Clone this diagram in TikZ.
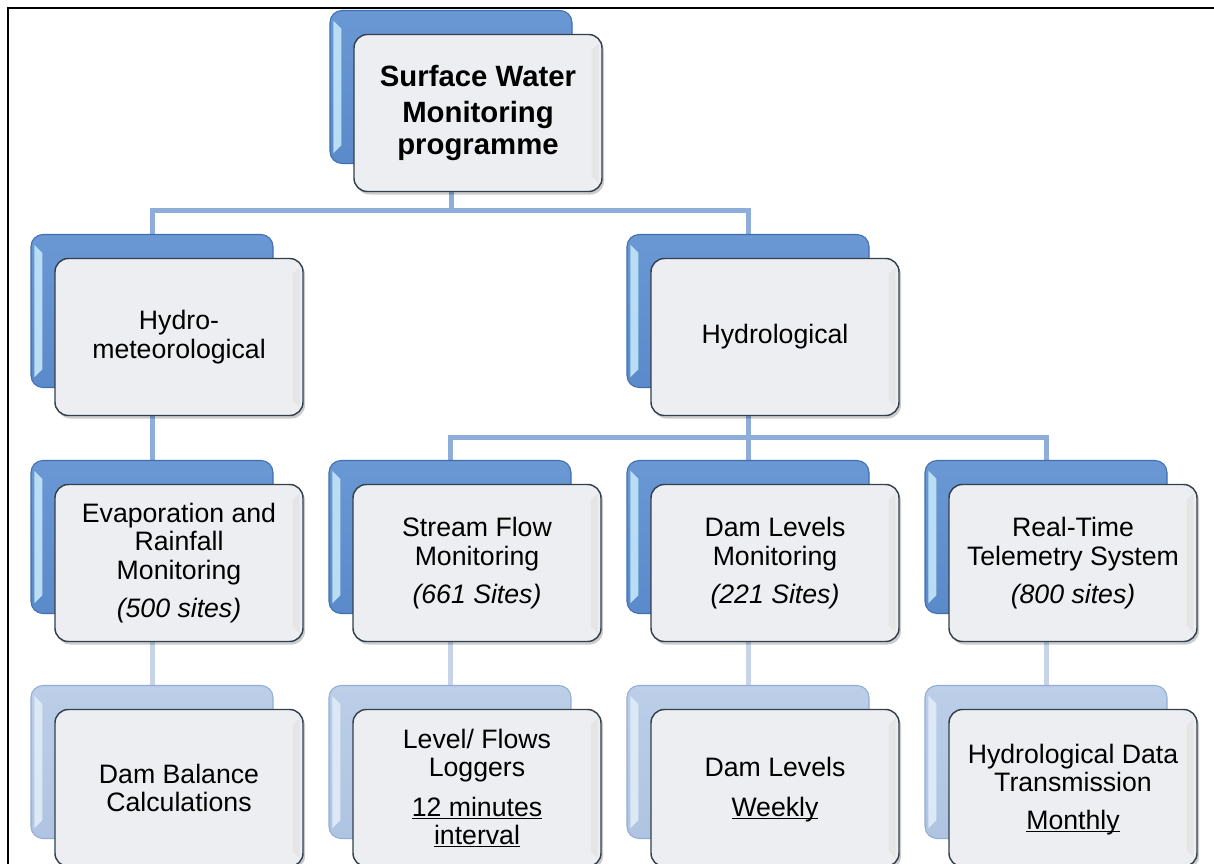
\documentclass[tikz,border=0pt]{standalone}
\usepackage{fontspec}
\setmainfont{Liberation Sans}
\usetikzlibrary{calc}
\pgfdeclarelayer{bg}
\pgfsetlayers{bg,main}
\definecolor{backblue}{HTML}{5A8ACA}
\definecolor{backblueT}{HTML}{6A98D4}
\definecolor{backblueD}{HTML}{406FB0}
\definecolor{backlight}{HTML}{AFC4E2}
\definecolor{backlightT}{HTML}{BCCEE8}
\definecolor{backlightD}{HTML}{93ADD4}
\definecolor{bevelA}{HTML}{B9DDF3}
\definecolor{bevelB}{HTML}{DCE9F5}
\definecolor{frontfill}{HTML}{EDEEF1}
\definecolor{frontdraw}{HTML}{33404C}
\definecolor{connA}{HTML}{8EADD9}
\definecolor{connB}{HTML}{C6D4EA}
\newcommand\myul[1]{\underline{\smash{#1}}}
\tikzset{
  backshape/.style={line width=0.8pt, rounded corners=9pt, minimum width=181.5pt,
    minimum height=114.75pt, inner sep=0pt},
  darkback/.style={backshape, draw=backblueD, top color=backblueT, bottom color=backblue},
  lightback/.style={backshape, draw=backlightD, top color=backlightT, bottom color=backlight},
  darkbackbevel/.style={fill=bevelA},
  lightbackbevel/.style={fill=bevelB},
  frontshadow/.style={rounded corners=10pt, minimum width=186pt, minimum height=117.75pt,
    inner sep=0pt, fill=black, fill opacity=0.2},
  frontbox/.style={draw=frontdraw, line width=1.1pt, rounded corners=10pt,
    minimum width=186pt, minimum height=117.75pt, inner sep=0pt,
    fill=frontfill, align=center,
    font=\fontsize{20}{21.5}\selectfont},
  frontbevel/.style={fill=black!12, fill opacity=0.6},
  conn/.style={draw=connA, line width=3.75pt},
  connlight/.style={draw=connB, line width=3.75pt},
}
% #1 name, #2 x, #3 y (centre of back box, px), #4 back style, #5 extra options, #6 text
\newcommand\mkunit[6]{%
  \node[#4] (#1b) at (#2,#3) {};
  \fill[#4bevel] ($(#1b.north west)+(4,11)$) -- ($(#1b.north west)+(12,19)$)
     -- ($(#1b.south west)+(12,-19)$) -- ($(#1b.south west)+(4,-11)$) -- cycle;
  \node[frontshadow] at ($(#1b.center)+(29,29)$) {};
  \node[frontbox,#5] (#1) at ($(#1b.center)+(27,26)$) {#6};
  \fill[frontbevel] ($(#1.north east)+(-11,16)$) -- ($(#1.north east)+(-4,9)$)
     -- ($(#1.south east)+(-4,-9)$) -- ($(#1.south east)+(-11,-16)$) -- cycle;
}
\begin{document}
\begin{tikzpicture}[x=0.75pt,y=-0.75pt]
\useasboundingbox (0,0) rectangle (1214,864);
\coordinate (fr1) at (8,864);
\coordinate (fr2) at (8,8);
\coordinate (fr3) at (1214,8);
\coordinate (bus1) at (0,210);
\coordinate (bus2) at (0,437);

\mkunit{top}{451}{87}{darkback}{font=\fontsize{22}{24}\selectfont\bfseries}
  {Surface Water\\[3pt]Monitoring\\programme}
\mkunit{hm}{152}{311}{darkback}{}{Hydro-\\meteorological}
\mkunit{hy}{748}{311}{darkback}{}{Hydrological}
\mkunit{ev}{152}{537}{darkback}{}{Evaporation and\\Rainfall\\Monitoring\\[7pt]\textit{(500 sites)}}
\mkunit{sf}{450}{537}{darkback}{}{Stream Flow\\Monitoring\\[7pt]\textit{(661 Sites)}}
\mkunit{dl}{748}{537}{darkback}{}{Dam Levels\\Monitoring\\[7pt]\textit{(221 Sites)}}
\mkunit{rt}{1046}{537}{darkback}{}{Real-Time\\Telemetry System\\[7pt]\textit{(800 sites)}}
\mkunit{db}{152}{762}{lightback}{}{Dam Balance\\Calculations}
\mkunit{lf}{450}{762}{lightback}{}{Level/ Flows\\Loggers\\[8pt]\myul{12 minutes}\\\myul{interval}}
\mkunit{dw}{748}{762}{lightback}{}{Dam Levels\\[8pt]\myul{Weekly}}
\mkunit{ht}{1046}{762}{lightback}{}{Hydrological Data\\Transmission\\[7pt]\myul{Monthly}}

\begin{pgfonlayer}{bg}
  \fill[white] (0,0) rectangle (1214,864);
  \draw[line width=1.5pt] (fr1) -- (fr2) -- (fr3);
  \draw[conn] (topb.south) -- (topb.south |- bus1);
  \draw[conn] (hmb.north) -- (hmb.north |- bus1) -- (hyb.north |- bus1) -- (hyb.north);
  \draw[conn] (hmb.south) -- (evb.north);
  \draw[conn] (hyb.south) -- (hyb.south |- bus2);
  \draw[conn] (sfb.north) -- (sfb.north |- bus2) -- (rtb.north |- bus2) -- (rtb.north);
  \draw[conn] (dlb.north) -- (dlb.north |- bus2);
  \draw[connlight] (evb.south) -- (dbb.north);
  \draw[connlight] (sfb.south) -- (lfb.north);
  \draw[connlight] (dlb.south) -- (dwb.north);
  \draw[connlight] (rtb.south) -- (htb.north);
\end{pgfonlayer}
\end{tikzpicture}
\end{document}
